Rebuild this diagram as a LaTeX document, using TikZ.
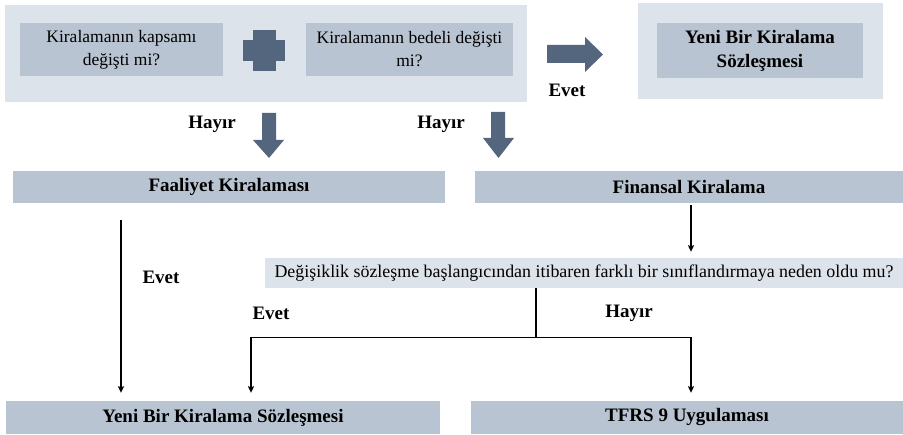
\documentclass[tikz,border=0pt]{standalone}
\usepackage{fontspec}
\setmainfont{Liberation Serif}
\usetikzlibrary{arrows.meta,calc}
\definecolor{lightbg}{HTML}{DDE3EA}
\definecolor{midbox}{HTML}{B9C4D2}
\definecolor{darkarr}{HTML}{53667E}
\begin{document}
\begin{tikzpicture}[x=1pt,y=-1pt,
  outerbox/.style={fill=lightbg,draw=none,inner sep=0pt},
  qbox/.style={fill=midbox,inner sep=0pt,align=center,font=\fontsize{17.5}{23}\selectfont},
  bar/.style={fill=midbox,inner sep=0pt,font=\bfseries\fontsize{19}{24}\selectfont},
  qlong/.style={fill=lightbg,inner sep=0pt,font=\fontsize{17.9}{20}\selectfont},
  lbl/.style={font=\bfseries\fontsize{19}{22}\selectfont,inner sep=0pt},
  conn/.style={line width=1.3pt,-{Stealth[length=6.5pt,width=6pt,inset=1pt]}},
  plain/.style={line width=1.3pt},
  blockarrow/.style={fill=darkarr,draw=none}]
\useasboundingbox (0,0) rectangle (903,435);

% top group
\node[outerbox,minimum width=522pt,minimum height=97pt] (grp) at (266,53.5) {};
\node[qbox,minimum width=203pt,minimum height=53pt] (q1) at (121.5,49.5) {Kiralamanın kapsamı\\değişti mi?};
\node[qbox,minimum width=207pt,minimum height=53pt] (q2) at (409.5,49.5) {Kiralamanın bedeli değişti\\mi?};
% plus sign
\fill[blockarrow] (253,30) rectangle (276,71);
\fill[blockarrow] (243,40) rectangle (285,61);

% right result
\node[outerbox,minimum width=245pt,minimum height=96pt] (grp2) at (760.5,51) {};
\node[bar,align=center,minimum width=206pt,minimum height=55pt] (yeni1) at (760,50.5) {Yeni Bir Kiralama\\Sözleşmesi};

% block arrows
\fill[blockarrow] (547,45) -- (585,45) -- (585,37) -- (603,54.5) -- (585,72) -- (585,63) -- (547,63) -- cycle;
\fill[blockarrow] (262,113) -- (276,113) -- (276,140) -- (284,140) -- (269,158) -- (253,140) -- (262,140) -- cycle;
\fill[blockarrow] (491,112) -- (505,112) -- (505,138) -- (514,138) -- (498.5,158) -- (483,138) -- (491,138) -- cycle;

\node[lbl] (evet1) at (567,90) {Evet};
\node[lbl] (hayir1) at (212,124) {Hayır};
\node[lbl] (hayir2) at (441,124) {Hayır};

% second row
\node[bar,minimum width=432pt,minimum height=32pt] (faal) at (229,187) {Faaliyet Kiralaması};
\node[bar,minimum width=428pt,minimum height=32pt] (fin) at (689,187) {Finansal Kiralama};

\node[qlong,minimum width=638pt,minimum height=30pt] (quest) at (584,273) {Değişiklik sözleşme başlangıcından itibaren farklı bir sınıflandırmaya neden oldu mu?};

% bottom row
\node[bar,minimum width=434pt,minimum height=33pt] (yeni2) at (223,417.5) {Yeni Bir Kiralama Sözleşmesi};
\node[bar,minimum width=432pt,minimum height=33pt] (tfrs) at (687,417.5) {TFRS 9 Uygulaması};

% connectors
\coordinate (a1) at ([xshift=-108pt]faal.south);
\draw[conn,shorten <=17pt,shorten >=8pt] (a1) -- (a1 |- yeni2.north);
\coordinate (a2) at ([xshift=2pt]fin.south);
\draw[conn,shorten <=2pt,shorten >=6pt] (a2) -- (a2 |- quest.north);
\coordinate (s0) at ([xshift=-48pt]quest.south);
\coordinate (j) at (536,337.5);
\coordinate (jl) at (251,337.5);
\coordinate (jr) at (691,337.5);
\draw[plain] (s0) -- (j);
\draw[line width=1.8pt] ([xshift=-0.65pt]jl) -- ([xshift=0.65pt]jr);
\draw[conn,shorten >=8pt] (jl) -- (jl |- yeni2.north);
\draw[conn,shorten >=8pt] (jr) -- (jr |- tfrs.north);

\node[lbl] (evet2) at (161,277) {Evet};
\node[lbl] (evet3) at (271,313) {Evet};
\node[lbl] (hayir3) at (629,313) {Hayır};
\end{tikzpicture}
\end{document}
